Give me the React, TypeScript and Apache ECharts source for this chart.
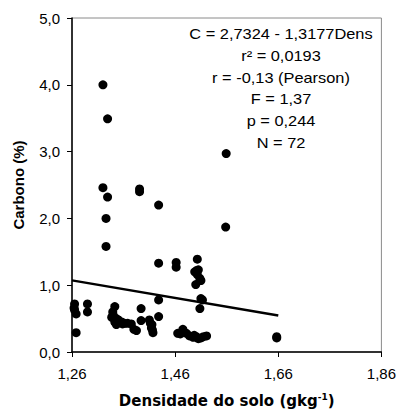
import React, { useEffect, useRef } from "react";
import * as echarts from "echarts";

// Soil density (x) and carbon % (y)
const dens = [
  1.32, 1.329, 1.32, 1.329, 1.326, 1.326, 1.391, 1.391, 1.428, 1.559,
  1.558, 1.428, 1.462, 1.462, 1.503, 1.505, 1.503, 1.51, 1.5, 1.51,
  1.508, 1.428, 1.428, 1.265, 1.265, 1.268, 1.268, 1.29, 1.29, 1.343,
  1.339, 1.337, 1.343, 1.35, 1.356, 1.362, 1.368, 1.346, 1.385, 1.38,
  1.394, 1.394, 1.41, 1.415, 1.417, 1.414, 1.465, 1.475, 1.488, 1.501,
  1.51, 1.521, 1.657, 1.657, 1.498, 1.34, 1.358, 1.47, 1.495, 1.505,
  1.515, 1.412, 1.375, 1.502, 1.508, 1.346, 1.264, 1.497, 1.482, 1.416,
  1.352, 1.513,
];
const carbono = [
  4.0, 3.49, 2.46, 2.32, 2.0, 1.58, 2.44, 2.4, 2.2, 2.97,
  1.87, 1.33, 1.34, 1.27, 1.39, 1.23, 1.16, 1.07, 1.01, 0.8,
  0.65, 0.78, 0.53, 0.72, 0.63, 0.57, 0.29, 0.72, 0.6, 0.68,
  0.6, 0.52, 0.45, 0.48, 0.45, 0.43, 0.43, 0.41, 0.32, 0.34,
  0.65, 0.47, 0.48, 0.41, 0.29, 0.36, 0.28, 0.34, 0.24, 0.23,
  0.21, 0.24, 0.21, 0.23, 1.2, 0.55, 0.42, 0.27, 0.22, 0.2,
  0.23, 0.43, 0.42, 1.22, 1.1, 0.5, 0.66, 0.25, 0.28, 0.33,
  0.44, 0.78,
];

// Regression: C = a + b * Dens, drawn over the observed density range
const intercept = 2.7324;
const slope = -1.3177;
const fitRange = [1.26, 1.66];

const xTicks = [1.26, 1.46, 1.66, 1.86];
const yTicks = [0, 1, 2, 3, 4, 5];

const statsLines = [
  "C = 2,7324 - 1,3177Dens",
  "r² = 0,0193",
  "r = -0,13 (Pearson)",
  "F = 1,37",
  "p = 0,244",
  "N = 72",
];

const X0 = xTicks[0];
const comma = (s: string) => s.replace(".", ",");

export default function App() {
  const ref = useRef<HTMLDivElement>(null);
  useEffect(() => {
    document.body.style.margin = "0";
    document.body.style.overflow = "hidden";
    if (!ref.current) return;
    const chart = echarts.init(ref.current, undefined, { renderer: "svg" });
    const pts = dens.map((d, i) => [d - X0, carbono[i]]);
    const fit = fitRange.map((d) => [d - X0, intercept + slope * d]);
    const xStep = xTicks[1] - xTicks[0];
    chart.setOption({
      animation: false,
      backgroundColor: "#fff",
      grid: {
        left: 72,
        right: 17,
        top: 18,
        bottom: 59,
        show: true,
        borderColor: "#8a8a8a",
        borderWidth: 1,
        backgroundColor: "transparent",
      },
      xAxis: {
        type: "value",
        min: 0,
        max: xTicks[xTicks.length - 1] - X0,
        interval: xStep,
        splitLine: { show: false },
        axisLine: { lineStyle: { color: "#000", width: 1.5 } },
        axisTick: { show: true, inside: false, length: 5, lineStyle: { color: "#000", width: 1 } },
        axisLabel: {
          margin: 14,
          color: "#000",
          fontSize: 15,
          fontFamily: "Liberation Sans, Arial, sans-serif",
          formatter: (v: number) => comma((v + X0).toFixed(2)),
        },
        name: "Densidade do solo (gkg{sup|-1})",
        nameLocation: "middle",
        nameGap: 40,
        nameTextStyle: {
          color: "#000",
          fontSize: 15,
          fontWeight: "bold",
          fontFamily: "DejaVu Sans",
          lineHeight: 18,
          rich: {
            sup: {
              fontSize: 9,
              fontWeight: "bold",
              fontFamily: "DejaVu Sans",
              color: "#000",
              verticalAlign: "top",
              lineHeight: 18,
            },
          },
        },
      },
      yAxis: {
        type: "value",
        min: yTicks[0],
        max: yTicks[yTicks.length - 1],
        interval: 1,
        splitLine: { show: false },
        axisLine: { show: true, lineStyle: { color: "#000", width: 1.5 } },
        axisTick: { show: true, inside: false, length: 5, lineStyle: { color: "#000", width: 1 } },
        axisLabel: {
          margin: 12,
          color: "#000",
          fontSize: 15,
          fontFamily: "Liberation Sans, Arial, sans-serif",
          formatter: (v: number) => comma(v.toFixed(1)),
        },
        name: "Carbono (%)",
        nameLocation: "middle",
        nameGap: 46,
        nameRotate: 90,
        nameTextStyle: {
          color: "#000",
          fontSize: 15,
          fontWeight: "bold",
          fontFamily: "Liberation Sans, Arial, sans-serif",
        },
      },
      series: [
        {
          type: "scatter",
          data: pts,
          symbol: "circle",
          symbolSize: 9,
          itemStyle: { color: "#000", opacity: 1 },
          z: 3,
        },
        {
          type: "line",
          data: fit,
          showSymbol: false,
          symbol: "none",
          lineStyle: { color: "#000", width: 2.5 },
          z: 2,
        },
      ],
      graphic: statsLines.map((t, i) => ({
        type: "text",
        x: 281,
        y: 34 + i * 21.8,
        scaleX: 1.17,
        style: {
          text: t,
          fill: "#000",
          fontSize: 14,
          fontFamily: "Liberation Sans, Arial, sans-serif",
          textAlign: "center",
          textVerticalAlign: "middle",
        },
        z: 10,
      })),
    });
    return () => chart.dispose();
  }, []);
  return <div ref={ref} style={{ width: 399, height: 415 }} />;
}
